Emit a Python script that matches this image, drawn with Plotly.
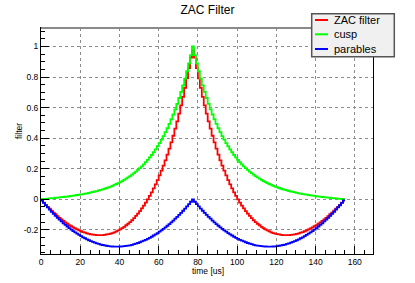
import plotly.graph_objects as go

# time bin edges [us] (155 bins of 1 us)
t_edges = list(range(0, 156))

zac = [-0.007,-0.022,-0.036,-0.049,-0.062,-0.075,-0.087,-0.098,-0.110,-0.121,
       -0.131,-0.142,-0.151,-0.160,-0.169,-0.176,-0.184,-0.191,-0.197,-0.203,
       -0.209,-0.215,-0.218,-0.223,-0.226,-0.229,-0.231,-0.233,-0.234,-0.234,
       -0.235,-0.234,-0.233,-0.230,-0.228,-0.225,-0.221,-0.216,-0.210,-0.204,
       -0.197,-0.189,-0.180,-0.170,-0.160,-0.149,-0.137,-0.123,-0.109,-0.094,
       -0.077,-0.060,-0.042,-0.022,-0.001,0.022,0.045,0.071,0.098,0.126,
       0.156,0.187,0.220,0.255,0.292,0.332,0.373,0.416,0.462,0.510,
       0.561,0.614,0.670,0.729,0.792,0.858,0.927,0.975,
       0.927,0.858,0.792,0.729,0.670,0.614,0.561,
       0.510,0.462,0.416,0.373,0.332,0.292,0.255,0.220,0.187,0.156,
       0.126,0.098,0.071,0.045,0.022,-0.001,-0.022,-0.042,-0.060,-0.077,
       -0.094,-0.109,-0.123,-0.137,-0.149,-0.160,-0.170,-0.180,-0.189,-0.197,
       -0.204,-0.210,-0.216,-0.221,-0.225,-0.228,-0.230,-0.233,-0.234,-0.235,
       -0.234,-0.234,-0.233,-0.231,-0.229,-0.226,-0.223,-0.218,-0.215,-0.209,
       -0.203,-0.197,-0.191,-0.184,-0.176,-0.169,-0.160,-0.151,-0.142,-0.131,
       -0.121,-0.110,-0.098,-0.087,-0.075,-0.062,-0.049,-0.036,-0.022,-0.007]

cusp = [0.001,0.002,0.003,0.004,0.006,0.007,0.008,0.010,0.011,0.012,
        0.014,0.015,0.017,0.018,0.020,0.022,0.024,0.026,0.028,0.030,
        0.032,0.034,0.037,0.039,0.042,0.045,0.048,0.051,0.054,0.058,
        0.061,0.065,0.069,0.074,0.078,0.083,0.088,0.094,0.100,0.106,
        0.112,0.119,0.127,0.135,0.143,0.152,0.161,0.171,0.181,0.192,
        0.204,0.216,0.229,0.243,0.258,0.274,0.290,0.308,0.327,0.347,
        0.368,0.390,0.414,0.439,0.465,0.494,0.524,0.555,0.589,0.625,
        0.663,0.703,0.745,0.790,0.838,0.889,0.943,1.000,
        0.943,0.889,0.838,0.790,0.745,0.703,0.663,
        0.625,0.589,0.555,0.524,0.494,0.465,0.439,0.414,0.390,0.368,
        0.347,0.327,0.308,0.290,0.274,0.258,0.243,0.229,0.216,0.204,
        0.192,0.181,0.171,0.161,0.152,0.143,0.135,0.127,0.119,0.112,
        0.106,0.100,0.094,0.088,0.083,0.078,0.074,0.069,0.065,0.061,
        0.058,0.054,0.051,0.048,0.045,0.042,0.039,0.037,0.034,0.032,
        0.030,0.028,0.026,0.024,0.022,0.020,0.018,0.017,0.015,0.014,
        0.012,0.011,0.010,0.008,0.007,0.006,0.004,0.003,0.002,0.001]

parables = [-0.008,-0.024,-0.039,-0.053,-0.068,-0.082,-0.095,-0.108,-0.121,-0.133,
            -0.145,-0.157,-0.168,-0.178,-0.189,-0.198,-0.208,-0.217,-0.225,-0.233,
            -0.241,-0.249,-0.255,-0.262,-0.268,-0.274,-0.279,-0.284,-0.288,-0.292,
            -0.296,-0.299,-0.302,-0.304,-0.306,-0.308,-0.309,-0.310,-0.310,-0.310,
            -0.309,-0.308,-0.307,-0.305,-0.303,-0.301,-0.298,-0.294,-0.290,-0.286,
            -0.281,-0.276,-0.271,-0.265,-0.259,-0.252,-0.245,-0.237,-0.229,-0.221,
            -0.212,-0.203,-0.194,-0.184,-0.173,-0.162,-0.151,-0.139,-0.127,-0.115,
            -0.102,-0.089,-0.075,-0.061,-0.046,-0.031,-0.016,0.000,
            -0.016,-0.031,-0.046,-0.061,-0.075,-0.089,-0.102,
            -0.115,-0.127,-0.139,-0.151,-0.162,-0.173,-0.184,-0.194,-0.203,-0.212,
            -0.221,-0.229,-0.237,-0.245,-0.252,-0.259,-0.265,-0.271,-0.276,-0.281,
            -0.286,-0.290,-0.294,-0.298,-0.301,-0.303,-0.305,-0.307,-0.308,-0.309,
            -0.310,-0.310,-0.310,-0.309,-0.308,-0.306,-0.304,-0.302,-0.299,-0.296,
            -0.292,-0.288,-0.284,-0.279,-0.274,-0.268,-0.262,-0.255,-0.249,-0.241,
            -0.233,-0.225,-0.217,-0.208,-0.198,-0.189,-0.178,-0.168,-0.157,-0.145,
            -0.133,-0.121,-0.108,-0.095,-0.082,-0.068,-0.053,-0.039,-0.024,-0.008]

series_names = ["ZAC filter", "cusp", "parables"]
series_values = [zac, cusp, parables]
series_colors = ["#ff0000", "#00ff00", "#0000ff"]

x_tickvals = [0, 20, 40, 60, 80, 100, 120, 140, 160]
x_ticktext = ["0", "20", "40", "60", "80", "100", "120", "140", "160"]
y_tickvals = [-0.2, 0, 0.2, 0.4, 0.6, 0.8, 1.0]
y_ticktext = ["-0.2", "0", "0.2", "0.4", "0.6", "0.8", "1"]
x_minor = list(range(0, 170, 5))
y_minor = [round(-0.35 + 0.05 * k, 2) for k in range(30)]

FONT = "Liberation Sans, Arial, Helvetica, sans-serif"
W, H = 415, 283
L, R, T, B = 41, 42, 28, 29
PW, PH = W - L - R, H - T - B

def px(X):
    return (X - L) / PW

def py(Y):
    return (H - B - Y) / PH

fig = go.Figure()
for name, vals, col in zip(series_names, series_values, series_colors):
    fig.add_trace(go.Scatter(
        x=t_edges, y=vals + [vals[-1]], mode="lines", name=name,
        line=dict(color=col, width=1.8, shape="hv"), showlegend=False,
        hoverinfo="skip"))

axis_common = dict(
    ticks="inside", ticklen=8, tickwidth=1, tickcolor="black",
    showline=True, linecolor="black", linewidth=1, mirror=True,
    showgrid=True, gridcolor="#8c8c8c", griddash="dot", gridwidth=1,
    zeroline=False, tickfont=dict(family=FONT, size=8.5, color="black"),
)
fig.update_xaxes(range=[0, 169.3], tickmode="array", tickvals=x_tickvals,
                 ticktext=x_ticktext,
                 minor=dict(tickmode="array", tickvals=x_minor, ticks="inside",
                            ticklen=4, tickcolor="black", showgrid=False),
                 **axis_common)
fig.update_yaxes(range=[-0.358, 1.121], tickmode="array", tickvals=y_tickvals,
                 ticktext=y_ticktext,
                 minor=dict(tickmode="array", tickvals=y_minor, ticks="inside",
                            ticklen=4, tickcolor="black", showgrid=False),
                 **axis_common)

shapes = [
    dict(type="line", xref="paper", yref="paper", x0=0, x1=1, y0=1, y1=1,
         line=dict(color="#8a8a8a", width=2)),
    dict(type="rect", xref="paper", yref="paper",
         x0=px(311.7), x1=px(394.3), y0=py(56.7), y1=py(13.7),
         fillcolor="#f0f0f0", line=dict(color="#555555", width=1.5)),
]
annotations = []
rows_y = [20.0, 34.3, 49.0]
for name, col, ry in zip(series_names, series_colors, rows_y):
    shapes.append(dict(type="line", xref="paper", yref="paper",
                       x0=px(315), x1=px(328), y0=py(ry), y1=py(ry),
                       line=dict(color=col, width=2)))
    annotations.append(dict(xref="paper", yref="paper", x=px(331.5), y=py(ry),
                            text=name, showarrow=False, xanchor="left",
                            yanchor="middle",
                            font=dict(family=FONT, size=11, color="black")))

annotations.append(dict(xref="paper", yref="paper", x=px(208), y=py(271),
                        text="time [us]", showarrow=False, xanchor="center",
                        yanchor="middle",
                        font=dict(family=FONT, size=8.5, color="black")))
annotations.append(dict(xref="paper", yref="paper", x=px(19), y=py(131),
                        text="filter", showarrow=False, textangle=-90,
                        xanchor="center", yanchor="middle",
                        font=dict(family=FONT, size=8.5, color="black")))

fig.update_layout(
    width=W, height=H, autosize=False,
    margin=dict(l=L, r=R, t=T, b=B, pad=0),
    paper_bgcolor="white", plot_bgcolor="white",
    title=dict(text="ZAC Filter", x=0.5, xanchor="center", y=1 - 9.5 / H,
               yanchor="middle", font=dict(family=FONT, size=12, color="black")),
    shapes=shapes, annotations=annotations, showlegend=False,
)

fig.write_html("out.html", config={"displayModeBar": False, "staticPlot": True},
               post_script="document.body.style.margin='0';document.body.style.padding='0';document.body.style.overflow='hidden';")
